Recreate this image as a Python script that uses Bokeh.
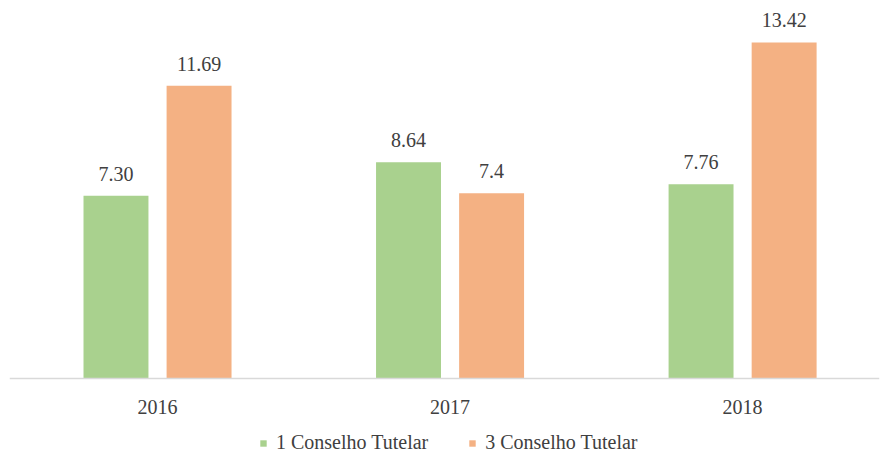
from bokeh.plotting import figure
from bokeh.models import ColumnDataSource, Range1d, Legend, LegendItem, Span
from bokeh.transform import dodge
from bokeh.core.properties import value
from bokeh.embed import file_html
from bokeh.resources import INLINE

categories = ["2016", "2017", "2018"]
series_names = ["1 Conselho Tutelar", "3 Conselho Tutelar"]
values_1 = [7.30, 8.64, 7.76]
values_3 = [11.69, 7.40, 13.42]
labels_1 = ["7.30", "8.64", "7.76"]
labels_3 = ["11.69", "7.4", "13.42"]

FONT = "Liberation Serif"
FS = "20px"
TXT = "#404040"
GREEN = "#A9D18E"
ORANGE = "#F4B183"

xs = list(range(len(categories)))
src = ColumnDataSource(dict(x=xs, v1=values_1, v3=values_3, l1=labels_1, l3=labels_3,
                            cat=categories, zero=[0] * len(xs)))

p = figure(frame_width=870, frame_height=454, output_backend="svg", toolbar_location=None,
           x_range=Range1d(-0.506, 2.468), y_range=Range1d(-3.035, 15.096),
           x_axis_location=None, y_axis_location=None,
           min_border_left=9, min_border_right=1, min_border_top=0, min_border_bottom=0)
p.outline_line_color = None
p.xgrid.visible = False
p.ygrid.visible = False
p.background_fill_color = "white"
p.border_fill_color = "white"

bw = 0.222
off = 0.142
r1 = p.vbar(x=dodge("x", -off), top="v1", bottom=0, width=bw, source=src,
            fill_color=GREEN, line_color=None)
r3 = p.vbar(x=dodge("x", off), top="v3", bottom=0, width=bw, source=src,
            fill_color=ORANGE, line_color=None)

# baseline (category axis line)
p.add_layout(Span(location=0, dimension="width", line_color="#D9D9D9", line_width=1.5))

# data labels
p.text(x=dodge("x", -off), y="v1", text="l1", source=src, text_align="center",
       text_baseline="middle", y_offset=-22, text_font=value(FONT),
       text_font_size=FS, text_color=TXT)
p.text(x=dodge("x", off), y="v3", text="l3", source=src, text_align="center",
       text_baseline="middle", y_offset=-22, text_font=value(FONT),
       text_font_size=FS, text_color=TXT)

# category labels
p.text(x="x", y="zero", text="cat", source=src, text_align="center",
       text_baseline="middle", y_offset=28, text_font=value(FONT),
       text_font_size=FS, text_color=TXT)

legend = Legend(items=[LegendItem(label=series_names[0], renderers=[r1]),
                       LegendItem(label=series_names[1], renderers=[r3])],
                orientation="horizontal", location=(250, 0),
                label_text_font=FONT, label_text_font_size=FS,
                label_text_color=TXT, glyph_width=8, glyph_height=8,
                label_height=18, spacing=40, label_standoff=9,
                border_line_color=None, background_fill_alpha=0,
                margin=0, padding=0)
p.add_layout(legend, "center")

open("out.html", "w").write(file_html(p, INLINE))
